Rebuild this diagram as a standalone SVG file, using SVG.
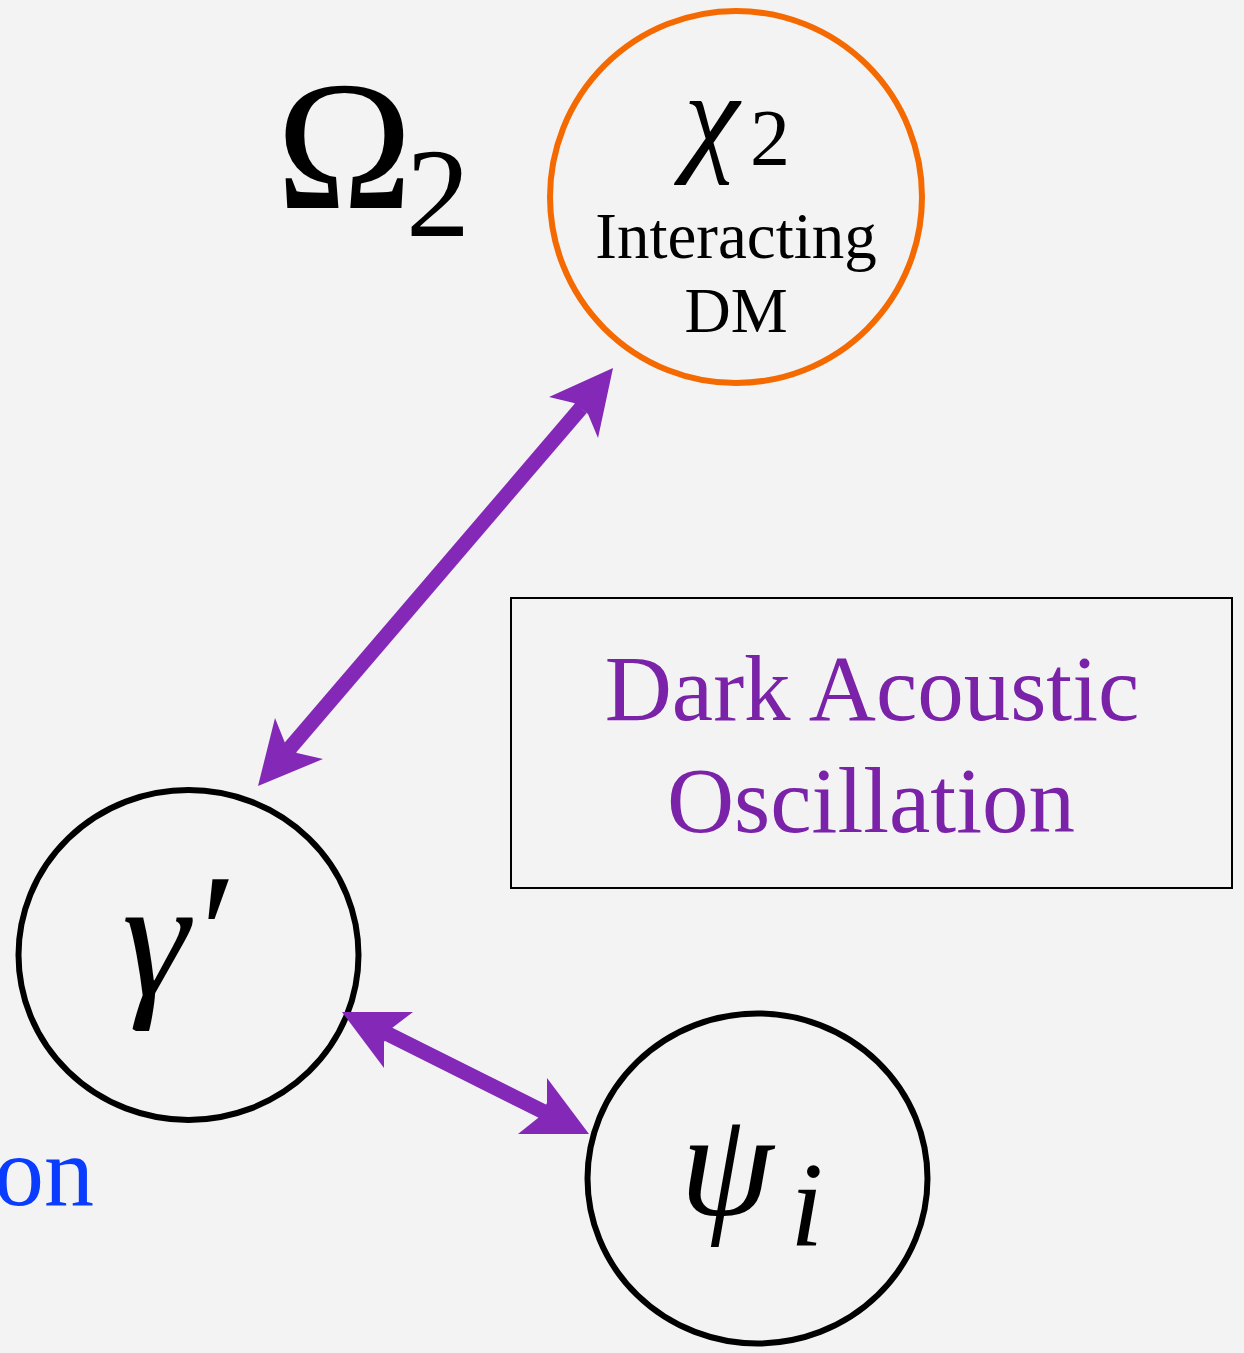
<svg xmlns="http://www.w3.org/2000/svg" width="1244" height="1353" viewBox="0 0 1244 1353">
<style>
.bg{fill:#f3f3f3}
.node{fill:none;stroke-width:6}
.serif{font-family:"Liberation Serif","DejaVu Serif",serif}
.math{font-family:"Liberation Serif","DejaVu Serif",serif;font-style:italic}
.arrow-line{stroke:#8428b8;stroke-width:15;fill:none}
.arrow-head{fill:#8428b8}
</style>
<rect class="bg" x="0" y="0" width="1244" height="1353"/>

<g id="omega-label">
<text class="serif" x="276" y="208" font-size="184" fill="#000">Ω</text>
<text class="serif" x="406" y="236" font-size="128" fill="#000">2</text>
</g>

<g id="chi2">
<circle class="node" cx="736" cy="197" r="186" stroke="#f56a00"/>
<text class="math" x="684" y="158" font-size="125" fill="#000">χ</text>
<text class="serif" x="750" y="165" font-size="80" fill="#000">2</text>
<text class="serif" x="736" y="258" font-size="65" text-anchor="middle" fill="#000">Interacting</text>
<text class="serif" x="736" y="332" font-size="64" text-anchor="middle" fill="#000">DM</text>
</g>

<g id="dao-box">
<rect x="511" y="598" width="721" height="290" fill="none" stroke="#000" stroke-width="2"/>
<text class="serif" x="872" y="720" font-size="93" text-anchor="middle" fill="#7a22a8">Dark Acoustic</text>
<text class="serif" x="871" y="832" font-size="93" text-anchor="middle" fill="#7a22a8">Oscillation</text>
</g>

<g id="gamma-prime">
<ellipse class="node" cx="188.5" cy="955" rx="170" ry="165" stroke="#000"/>
<text class="math" x="122" y="995" font-size="170" fill="#000">γ</text>
<text class="serif" x="200" y="990" font-size="170" fill="#000">′</text>
</g>

<g id="psi-i">
<ellipse class="node" cx="757.5" cy="1178.5" rx="170" ry="165" stroke="#000"/>
<text class="math" x="680" y="1215" font-size="150" fill="#000">ψ</text>
<text class="math" x="790" y="1245" font-size="120" fill="#000">i</text>
</g>

<g id="on-label">
<text class="serif" x="-6" y="1205" font-size="100" fill="#0a3cff">on</text>
</g>

<g id="connectors">
<line class="arrow-line" x1="290" y1="748" x2="581" y2="408"/>
<polygon class="arrow-head" points="613,368 598,438 588,414 574,403 549,397"/>
<polygon class="arrow-head" points="258,786 275,718 285,743 297,753 323,759"/>
<line class="arrow-line" x1="386" y1="1033" x2="544" y2="1112"/>
<polygon class="arrow-head" points="342,1012 413,1012 392,1028 384,1042 384,1068"/>
<polygon class="arrow-head" points="589,1134 547,1078 547,1103 538,1118 518,1134"/>
</g>
</svg>
